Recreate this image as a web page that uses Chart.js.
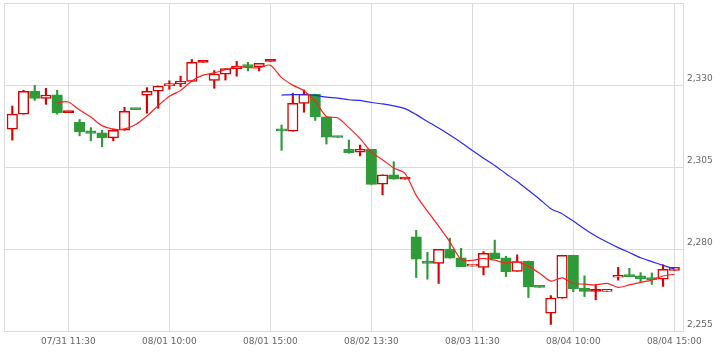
<!DOCTYPE html>
<html>
<head>
<meta charset="utf-8">
<title>Candles</title>
<script src="https://cdn.jsdelivr.net/npm/chart.js@4.4.1/dist/chart.umd.min.js"></script>
<style>
  html, body { margin: 0; padding: 0; background: #fff; }
  canvas { display: block; }
</style>
</head>
<body>
<canvas id="chart" width="720" height="352"></canvas>
<script>
// candles, oldest first
const opens = [
  2316.5, 2321.1, 2328.1, 2325.9, 2327.0, 2321.6, 2318.6, 2316.0, 2315.4, 2313.9,
  2316.2, 2322.7, 2326.9, 2328.1, 2329.7, 2330.3, 2331.1, 2336.9, 2331.4, 2333.3,
  2335.0, 2335.8, 2335.5, 2337.2, 2316.2, 2315.9, 2324.4, 2327.2, 2320.3, 2314.2,
  2310.4, 2309.5, 2310.4, 2299.8, 2302.6, 2301.3, 2283.7, 2276.3, 2275.6, 2280.0,
  2277.3, 2274.8, 2274.4, 2278.8, 2277.3, 2273.2, 2276.3, 2268.5, 2260.4, 2265.0,
  2278.1, 2268.1, 2267.1, 2267.1, 2271.4, 2272.1, 2271.8, 2271.3, 2270.8, 2273.5
];
const highs = [
  2323.6, 2328.4, 2329.9, 2329.0, 2328.4, 2321.6, 2319.5, 2317.0, 2316.2, 2316.6,
  2323.2, 2322.7, 2329.2, 2329.7, 2331.3, 2332.7, 2337.8, 2336.9, 2334.4, 2335.0,
  2337.2, 2336.9, 2336.6, 2337.2, 2317.8, 2327.5, 2328.5, 2327.2, 2320.3, 2314.2,
  2313.2, 2311.7, 2310.4, 2302.6, 2306.6, 2301.3, 2285.7, 2279.0, 2279.9, 2283.3,
  2280.2, 2275.3, 2279.2, 2282.7, 2277.8, 2278.2, 2276.3, 2268.5, 2265.8, 2278.1,
  2278.1, 2271.8, 2269.2, 2267.5, 2274.4, 2274.1, 2272.8, 2272.7, 2275.2, 2274.4
];
const lows = [
  2313.2, 2321.1, 2325.3, 2324.1, 2321.1, 2321.6, 2314.5, 2313.0, 2311.2, 2313.0,
  2316.2, 2322.5, 2321.4, 2322.9, 2328.7, 2329.5, 2331.1, 2336.9, 2329.0, 2331.5,
  2332.7, 2334.3, 2334.3, 2337.2, 2310.1, 2315.9, 2321.7, 2319.2, 2312.0, 2314.0,
  2309.2, 2308.4, 2299.7, 2296.5, 2301.3, 2301.3, 2271.3, 2270.8, 2269.5, 2277.2,
  2274.6, 2274.8, 2272.1, 2277.0, 2271.6, 2273.2, 2265.2, 2268.3, 2257.0, 2265.0,
  2267.0, 2265.5, 2264.5, 2267.1, 2270.5, 2271.6, 2269.9, 2269.2, 2268.6, 2273.5
];
const closes = [
  2321.1, 2328.1, 2325.9, 2326.9, 2321.6, 2321.6, 2315.8, 2315.2, 2313.9, 2316.2,
  2322.0, 2322.5, 2328.1, 2329.7, 2330.4, 2331.1, 2336.9, 2336.9, 2333.3, 2335.0,
  2335.8, 2335.6, 2336.6, 2337.2, 2316.0, 2324.4, 2327.2, 2320.3, 2314.1, 2314.0,
  2309.4, 2310.4, 2299.7, 2302.6, 2301.3, 2301.3, 2276.9, 2275.6, 2279.9, 2277.2,
  2274.6, 2275.3, 2278.7, 2277.0, 2273.1, 2276.2, 2268.5, 2268.3, 2265.0, 2278.1,
  2267.9, 2267.1, 2267.1, 2267.5, 2272.0, 2271.6, 2270.9, 2270.6, 2273.8, 2274.4
];

// moving averages, first value sits on candle 5 / candle 25
const ma5 = [
  2324.72, 2324.82, 2322.36, 2320.22, 2317.62, 2316.54, 2316.62, 2317.96, 2320.54, 2323.70,
  2326.54, 2328.36, 2331.24, 2333.00, 2333.72, 2334.64, 2335.58, 2335.32, 2335.26, 2336.04,
  2332.24, 2329.96, 2328.28, 2325.02, 2320.40, 2320.00, 2317.00, 2313.64, 2309.52, 2307.22,
  2304.68, 2303.06, 2296.36, 2291.54, 2287.00, 2282.18, 2276.84, 2276.52, 2277.14, 2276.56,
  2275.74, 2276.06, 2274.70, 2272.62, 2270.22, 2271.22, 2269.56, 2269.28, 2269.04, 2269.54,
  2268.32, 2269.06, 2269.82, 2270.52, 2271.78, 2272.26
];
const ma25 = [
  2326.94, 2327.07, 2327.03, 2326.81, 2326.30, 2325.99, 2325.50, 2325.29, 2324.67, 2324.22,
  2323.62, 2322.79, 2320.97, 2318.87, 2316.88, 2314.75, 2312.49, 2310.02, 2307.70, 2305.44,
  2302.97, 2300.58, 2297.90, 2295.17, 2292.28, 2290.76, 2288.50, 2286.10, 2283.97, 2282.11,
  2280.43, 2278.92, 2277.34, 2276.17, 2275.02, 2273.94
];
const MA5_START = 4;
const MA25_START = 24;

const tickIndexes = [5, 14, 23, 32, 41, 50, 59];
const tickLabels = ['07/31 11:30', '08/01 10:00', '08/01 15:00', '08/02 13:30',
  '08/03 11:30', '08/04 10:00', '08/04 15:00'];
const PRICE_MIN = 2255;
const PRICE_MAX = 2355;
const PRICE_STEP = 25;

const UP_COLOR = '#dd0000';
const DOWN_COLOR = '#2f9a38';
const GRID_COLOR = '#dcdcdc';
const TEXT_COLOR = '#666666';
const FONT = { family: '"DejaVu Sans", Verdana, sans-serif', size: 9 };

const isUp = (i) => closes[i] >= opens[i];
const isDoji = (i) => closes[i] === opens[i];

/**
 * Thin frame round the plot area (left and top are not covered by any axis).
 */
const framePlugin = {
  id: 'frame',
  beforeDatasetsDraw(chart) {
    const { ctx, chartArea } = chart;
    ctx.save();
    ctx.strokeStyle = GRID_COLOR;
    ctx.lineWidth = 1;
    ctx.strokeRect(chartArea.left + 0.5, chartArea.top + 0.5,
      chartArea.right - chartArea.left, chartArea.bottom - chartArea.top);
    ctx.restore();
  }
};

/**
 * Fixed axis sizes, no extra room for overhanging labels.
 */
function fixSize(size) {
  return (scale) => {
    if (scale.isHorizontal()) {
      scale.height = size;
    } else {
      scale.width = size;
    }
    scale.paddingLeft = 0;
    scale.paddingRight = 0;
    scale.paddingTop = 0;
    scale.paddingBottom = 0;
  };
}

const wickData = opens.map((o, i) => ({ x: i, y: [lows[i], highs[i]] }));
const bodyData = opens.map((o, i) => ({ x: i, y: [o, closes[i]] }));
const ma5Data = ma5.map((v, k) => ({ x: MA5_START + k, y: v }));
const ma25Data = ma25.map((v, k) => ({ x: MA25_START + k, y: v }));

const candleColors = opens.map((o, i) => (isUp(i) ? UP_COLOR : DOWN_COLOR));
// rising candles are hollow, a flat one is just a solid dash
const bodyFills = opens.map((o, i) => {
  if (isDoji(i)) return UP_COLOR;
  return isUp(i) ? '#ffffff' : DOWN_COLOR;
});

new Chart(document.getElementById('chart'), {
  type: 'bar',
  data: {
    datasets: [
      {
        type: 'line',
        data: ma5Data,
        borderColor: '#ff2020',
        borderWidth: 1.2,
        pointRadius: 0,
        tension: 0.25,
        order: 0
      },
      {
        type: 'line',
        data: ma25Data,
        borderColor: '#2828ff',
        borderWidth: 1.2,
        pointRadius: 0,
        tension: 0.25,
        order: 0
      },
      {
        data: bodyData,
        backgroundColor: bodyFills,
        borderColor: candleColors,
        borderWidth: 1.5,
        borderSkipped: false,
        barThickness: 10.5,
        minBarLength: 2,
        grouped: false,
        order: 1
      },
      {
        data: wickData,
        backgroundColor: candleColors,
        borderWidth: 0,
        barThickness: 1.5,
        grouped: false,
        order: 2
      }
    ]
  },
  options: {
    responsive: false,
    animation: false,
    devicePixelRatio: 1,
    events: [],
    layout: { padding: { left: 4, top: 3, right: 0, bottom: 0 } },
    plugins: {
      legend: { display: false },
      tooltip: { enabled: false }
    },
    scales: {
      x: {
        type: 'linear',
        offset: false,
        min: -0.74,
        max: 59.78,
        afterFit: fixSize(21),
        afterBuildTicks(scale) { scale.ticks = tickIndexes.map((v) => ({ value: v })); },
        grid: { color: GRID_COLOR, drawTicks: false, offset: false },
        border: { display: false },
        ticks: {
          color: TEXT_COLOR,
          font: FONT,
          padding: 5,
          maxRotation: 0,
          autoSkip: false,
          callback: (value, index) => tickLabels[index]
        }
      },
      y: {
        position: 'right',
        min: PRICE_MIN,
        max: PRICE_MAX,
        afterFit: fixSize(37),
        grid: { color: GRID_COLOR, drawTicks: false },
        border: { display: false },
        ticks: {
          stepSize: PRICE_STEP,
          color: TEXT_COLOR,
          font: FONT,
          padding: 4,
          labelOffset: -6,
          callback: (value) => (value === PRICE_MAX ? '' : value.toLocaleString('en-US'))
        }
      }
    }
  },
  plugins: [framePlugin]
});
</script>
</body>
</html>
